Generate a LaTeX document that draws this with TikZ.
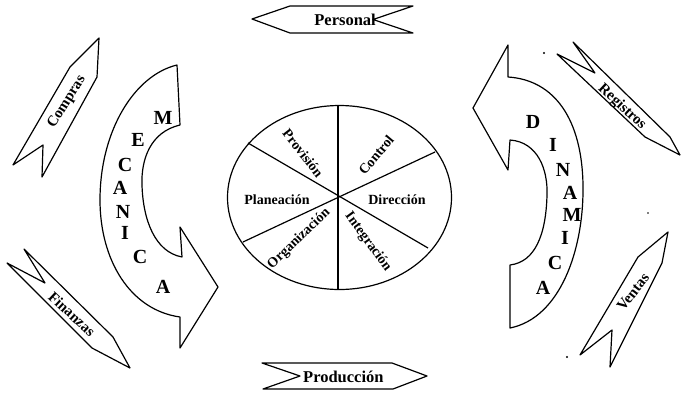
\documentclass[tikz,border=0pt]{standalone}
\usepackage{fontspec}
\setmainfont{Liberation Serif}
\begin{document}
\begin{tikzpicture}[x=1pt,y=-1pt,
  outl/.style={draw=black,line width=1.2pt,line join=round,fill=white},
  lbl/.style={font=\bfseries\fontsize{14}{14}\selectfont,inner sep=0pt},
  ban/.style={font=\bfseries\fontsize{15}{15}\selectfont,inner sep=0pt},
  hban/.style={font=\bfseries\fontsize{16.5}{16.5}\selectfont,inner sep=0pt},
  big/.style={font=\bfseries\fontsize{20}{20}\selectfont,inner sep=0pt}]
\useasboundingbox (0,0) rectangle (681,392);
\fill[white] (0,0) rectangle (681,392);

% centre ellipse
\draw[outl] (339.5,197.5) ellipse[x radius=112,y radius=92];
\draw[line width=1.2pt] (338,105.5) -- (338,289.5);
\draw[line width=1.2pt] (248,143) -- (428,248);
\draw[line width=1.2pt] (435,152) -- (243,242);
\node[lbl,rotate=-52] (prov) at (303,153) {Provisión};
\node[lbl,rotate=50] (ctrl) at (376,155) {Control};
\node[lbl] (plan) at (277,200) {Planeación};
\node[lbl] (dir) at (397,200) {Dirección};
\node[lbl,rotate=44] (org) at (299,239) {Organización};
\node[lbl,rotate=-54] (integ) at (368,242) {Integración};

% top / bottom banners
\draw[outl] (252,19) -- (290,6) -- (413,6) -- (373,19.5) -- (413,33) -- (290,33) -- cycle;
\node[hban,anchor=east] (pers) at (376,20) {Personal};
\draw[outl] (262,363) -- (392,363) -- (427,376) -- (393,389) -- (263,389) -- (300,376) -- cycle;
\node[hban,anchor=west] (prod) at (303,377) {Producción};

% side banners
\draw[outl] (99,38) -- (97,77) -- (42,177) -- (43,145) -- (13,165) -- (70,67) -- cycle;
\node[ban,rotate=58] (comp) at (67,102) {Compras};
\draw[outl] (24,249) -- (113,337) -- (130,368) -- (92,348) -- (7,263) -- (45,283) -- cycle;
\node[ban,rotate=-43] (fin) at (72,314) {Finanzas};
\draw[outl] (573,42) -- (670,137) -- (680,155) -- (645,137) -- (557,54) -- (595,73) -- cycle;
\node[ban,rotate=-43] (reg) at (622,107) {Registros};
\draw[outl] (668,232) -- (662,263) -- (610,367) -- (612,330) -- (580,355) -- (638,257) -- cycle;
\node[ban,rotate=52] (vent) at (633,292) {Ventas};

% MECANICA arrow
\draw[outl] (177,65) -- (180,125)
  .. controls (150,132) and (141,160) .. (142,185)
  .. controls (143,220) and (155,252) .. (182,257)
  -- (180,227) -- (218,287) -- (180,348) -- (180,317)
  .. controls (130,310) and (100,260) .. (100,200)
  .. controls (100,130) and (135,75) .. (177,65) -- cycle;
\node[big] (m1) at (163,118) {M};
\node[big] (m2) at (138,140) {E};
\node[big] (m3) at (125,165) {C};
\node[big] (m4) at (120,188) {A};
\node[big] (m5) at (123,212) {N};
\node[big] (m6) at (125,233) {I};
\node[big] (m7) at (140,257) {C};
\node[big] (m8) at (163,287) {A};

% DINAMICA arrow
\draw[outl] (508,45) -- (473,108) -- (508,170) -- (510,140)
  .. controls (538,142) and (548,170) .. (547,195)
  .. controls (546,235) and (535,262) .. (510,265)
  -- (510,328)
  .. controls (560,318) and (584,250) .. (583,185)
  .. controls (582,120) and (555,80) .. (508,77) -- cycle;
\node[big] (d1) at (533,122) {D};
\node[big] (d2) at (553,145) {I};
\node[big] (d3) at (563,170) {N};
\node[big] (d4) at (570,193) {A};
\node[big] (d5) at (572,215) {M};
\node[big] (d6) at (565,238) {I};
\node[big] (d7) at (555,263) {C};
\node[big] (d8) at (543,288) {A};

% stray dots
\fill (544,53) circle (1.2);
\fill (648,213) circle (0.9);
\fill (567,357) circle (1.2);
\end{tikzpicture}
\end{document}
